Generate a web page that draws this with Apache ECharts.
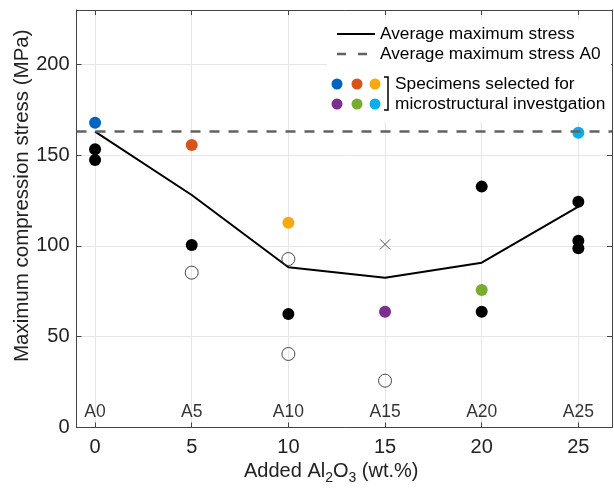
<!DOCTYPE html>
<html><head><meta charset="utf-8">
<script src="https://cdn.jsdelivr.net/npm/echarts@6/dist/echarts.min.js"></script>
<style>html,body{margin:0;padding:0;background:#fff}#c{width:614px;height:492px}</style>
</head><body><div id="c"></div>
<script>
// ---- data ----
const xTicks = [0, 5, 10, 15, 20, 25];
const yTicks = [0, 50, 100, 150, 200];
const groupLabels = ['A0', 'A5', 'A10', 'A15', 'A20', 'A25'];
const groupX = [0, 5, 10, 15, 20, 25];
const groupLabelY = 8.5;
const avgStress = [163, 128.1, 88.3, 82.5, 90.8, 121.7];
const avgStressA0 = 163;
const filledBlack = [[0,153.3],[0,147.4],[5,100.6],[10,62.5],[20,132.7],[20,63.8],[25,124.4],[25,102.9],[25,98.7]];
const openCircles = [[5,85.3],[10,92.8],[10,40.5],[15,25.8]];
const crossPoints = [[15,100.9]];
const selectedX = [0, 5, 10, 15, 20, 25];
const selectedY = [167.9, 155.6, 112.8, 63.8, 75.8, 162.4];
const selectedColors = ['#0064C0', '#D95319', '#F7AA0F', '#7E2F8E', '#77AC30', '#0AAEEC'];
const legendLabels = ['Average maximum stress', 'Average maximum stress A0', 'Specimens selected for', 'microstructural investgation'];

const FONT = 'Liberation Sans, Arial, Helvetica, sans-serif';
const chart = echarts.init(document.getElementById('c'));

const xMin = -0.96, xMax = 26.74, yMin = 0, yMax = 230;
const axisColor = '#444';
const gridColor = '#e6e6e6';

const legendGraphics = [
  {type:'rect', z:5, shape:{x:327, y:19, width:284, height:103}, style:{fill:'#fff'}},
  {type:'line', z:6, shape:{x1:337, y1:34, x2:375, y2:34}, style:{stroke:'#000', lineWidth:2}},
  {type:'text', z:6, x:380, y:34, style:{text:legendLabels[0], font:'17.3px ' + FONT, fill:'#000', verticalAlign:'middle'}},
  {type:'line', z:6, shape:{x1:337, y1:54, x2:346, y2:54}, style:{stroke:'#626262', lineWidth:2.5}},
  {type:'line', z:6, shape:{x1:358, y1:54, x2:367, y2:54}, style:{stroke:'#626262', lineWidth:2.5}},
  {type:'text', z:6, x:380, y:54, style:{text:legendLabels[1], font:'17.3px ' + FONT, fill:'#000', verticalAlign:'middle'}},
  {type:'polyline', z:6, shape:{points:[[384,77],[388,77],[388,110],[384,110]]}, style:{stroke:'#000', lineWidth:1.5, fill:'none'}},
  {type:'text', z:6, x:395, y:84, style:{text:legendLabels[2], font:'17.3px ' + FONT, fill:'#000', verticalAlign:'middle'}},
  {type:'text', z:6, x:395, y:104, style:{text:legendLabels[3], font:'17.3px ' + FONT, fill:'#000', verticalAlign:'middle'}}
];
const dotPos = [[337,84],[357,84],[375,84],[337,104],[357,104],[375,104]];
dotPos.forEach((p, i) => legendGraphics.push({type:'circle', z:6, shape:{cx:p[0], cy:p[1], r:5.5}, style:{fill:selectedColors[i]}}));

const option = {
  animation: false,
  backgroundColor: '#fff',
  grid: {left: 76.5, right: 2, top: 10, bottom: 64.5, outerBoundsMode: 'none', containLabel: false},
  xAxis: [{
    type: 'value', min: xMin, max: xMax, position: 'bottom',
    name: 'Added Al{sub|2}O{sub|3} (wt.%)', nameLocation: 'middle', nameGap: 30, nameMoveOverlap: false,
    nameTextStyle: {fontFamily: FONT, fontSize: 20, color: '#222', padding: [0, 26, 0, 0],
      rich: {sub: {fontFamily: FONT, fontSize: 14, color: '#222', padding: [14, 0, 0, 0]}}},
    axisLine: {show: true, onZero: false, lineStyle: {color: axisColor, width: 1}},
    axisTick: {show: true, inside: true, length: 5, customValues: xTicks, lineStyle: {color: axisColor}},
    axisLabel: {customValues: xTicks, fontFamily: FONT, fontSize: 20, color: '#222', margin: 10},
    splitLine: {show: true, lineStyle: {color: gridColor, width: 1}}
  }, {
    type: 'value', min: xMin, max: xMax, position: 'top',
    axisLine: {show: true, onZero: false, lineStyle: {color: axisColor, width: 1}},
    axisTick: {show: true, inside: true, length: 5, customValues: xTicks, lineStyle: {color: axisColor}},
    axisLabel: {show: false}, splitLine: {show: false}
  }],
  yAxis: [{
    type: 'value', min: yMin, max: yMax, position: 'left',
    name: 'Maximum compression stress (MPa)', nameLocation: 'middle', nameGap: 44, nameMoveOverlap: false,
    nameTextStyle: {fontFamily: FONT, fontSize: 20.5, color: '#222', padding: [0, 0, 0, 46]},
    axisLine: {show: true, onZero: false, lineStyle: {color: axisColor, width: 1}},
    axisTick: {show: true, inside: true, length: 5, customValues: yTicks, lineStyle: {color: axisColor}},
    axisLabel: {customValues: yTicks, fontFamily: FONT, fontSize: 20, color: '#222', margin: 7},
    splitLine: {show: true, lineStyle: {color: gridColor, width: 1}}
  }, {
    type: 'value', min: yMin, max: yMax, position: 'right',
    axisLine: {show: true, onZero: false, lineStyle: {color: axisColor, width: 1}},
    axisTick: {show: true, inside: true, length: 5, customValues: yTicks, lineStyle: {color: axisColor}},
    axisLabel: {show: false}, splitLine: {show: false}
  }],
  graphic: legendGraphics,
  series: [
    {
      type: 'line', z: 2, symbol: 'none', silent: true,
      data: groupX.map((x, i) => [x, avgStress[i]]),
      lineStyle: {color: '#000', width: 2},
      markLine: {
        silent: true, symbol: 'none', label: {show: false},
        lineStyle: {type: [10, 9], color: '#626262', width: 2.5},
        data: [{yAxis: avgStressA0}]
      }
    },
    {type: 'scatter', z: 3, symbolSize: 12, data: filledBlack, itemStyle: {color: '#000', opacity: 1}},
    {type: 'scatter', z: 3, symbolSize: 13, data: openCircles,
      itemStyle: {color: 'rgba(0,0,0,0)', borderColor: '#333', borderWidth: 0.9, opacity: 1}},
    {type: 'scatter', z: 3, symbol: 'path://M0 0L10 10M10 0L0 10', symbolSize: 10, data: crossPoints,
      itemStyle: {color: 'none', borderColor: '#555', borderWidth: 1, opacity: 1}},
    {type: 'scatter', z: 4, symbolSize: 12,
      data: selectedX.map((x, i) => ({value: [x, selectedY[i]], itemStyle: {color: selectedColors[i], opacity: 1}}))},
    {type: 'scatter', z: 4, symbolSize: 0, silent: true,
      data: groupX.map((x, i) => ({value: [x, groupLabelY], name: groupLabels[i]})),
      label: {show: true, position: 'inside', formatter: '{b}', fontFamily: FONT, fontSize: 17.5, color: '#000'}}
  ]
};
chart.setOption(option);
</script>
</body></html>
